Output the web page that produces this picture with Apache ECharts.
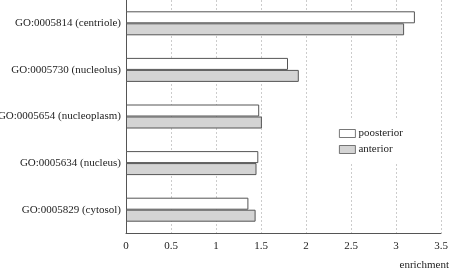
<!DOCTYPE html>
<html>
<head>
<meta charset="utf-8">
<script src="https://cdn.jsdelivr.net/npm/echarts@6/dist/echarts.min.js"></script>
<style>
  html, body { margin: 0; padding: 0; background: #fff; }
  #main { width: 450px; height: 271px; }
</style>
</head>
<body>
<div id="main"></div>
<script>
// categories, top to bottom
var categories = ['GO:0005814 (centriole)', 'GO:0005730 (nucleolus)', 'GO:0005654 (nucleoplasm)', 'GO:0005634 (nucleus)', 'GO:0005829 (cytosol)'];
var seriesNames = ['poosterior', 'anterior'];
var posterior = [3.21, 1.80, 1.48, 1.47, 1.36];
var anterior = [3.09, 1.92, 1.51, 1.45, 1.44];

var font = 'Liberation Serif';
var dark = '#555';

var myChart = echarts.init(document.getElementById('main'));
var option = {
	animation: false,
	textStyle: { fontFamily: font },
	title: {
		text: 'enrichment',
		right: 1,
		bottom: 0,
		padding: 0,
		textStyle: { fontFamily: font, fontSize: 11, fontWeight: 'normal', color: '#222' }
	},
	legend: {
		orient: 'vertical',
		left: 330,
		top: 119,
		padding: [9, 34, 9, 9],
		itemGap: 5,
		itemWidth: 16,
		itemHeight: 8,
		backgroundColor: '#fff',
		icon: 'rect',
		itemStyle: { borderWidth: 0.8 },
		textStyle: { fontFamily: font, fontSize: 11, color: '#222', padding: [0, 0, 0, -2] },
		data: seriesNames
	},
	grid: { left: 126, right: 9, top: 0, bottom: 38, outerBoundsMode: 'none', containLabel: false },
	xAxis: {
		type: 'value',
		min: 0,
		max: 3.5,
		interval: 0.5,
		axisLine: { show: true, lineStyle: { color: dark, width: 1 } },
		axisTick: { show: false },
		axisLabel: { fontFamily: font, fontSize: 11, color: '#222', margin: 8 },
		splitLine: { show: true, lineStyle: { color: '#ccc', type: [2, 2], width: 1 } }
	},
	yAxis: {
		type: 'category',
		inverse: true,
		data: categories,
		axisLine: { show: true, lineStyle: { color: dark, width: 1 } },
		axisTick: { show: false },
		axisLabel: { fontFamily: font, fontSize: 11, color: '#222', margin: 5 }
	},
	series: [{
		name: seriesNames[0],
		type: 'bar',
		barWidth: 12,
		barGap: 0,
		itemStyle: { color: '#fff', borderColor: dark, borderWidth: 1 },
		data: posterior
	}, {
		name: seriesNames[1],
		type: 'bar',
		barWidth: 12,
		barGap: 0,
		itemStyle: { color: '#d4d4d4', borderColor: dark, borderWidth: 1 },
		data: anterior
	}]
};
myChart.setOption(option);
window.onresize = myChart.resize;
</script>
</body>
</html>
